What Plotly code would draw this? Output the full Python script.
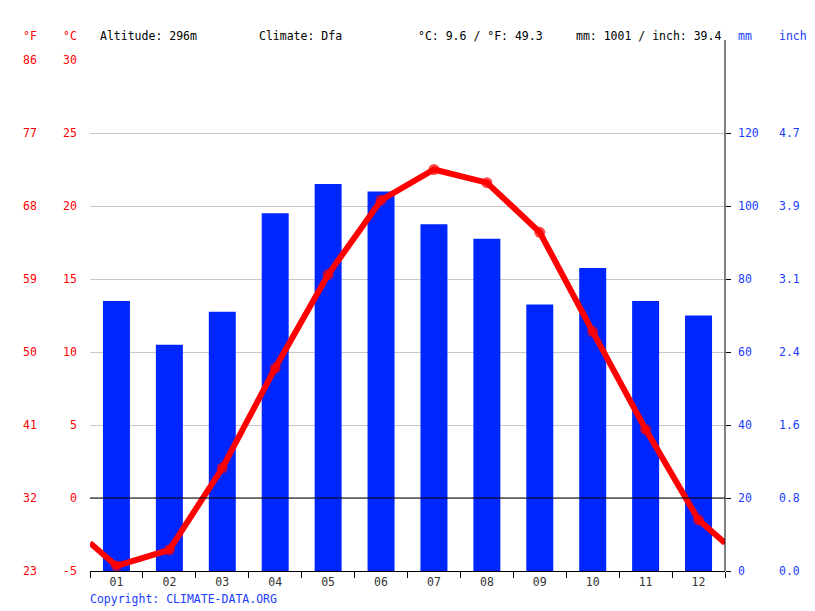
import plotly.graph_objects as go

# ---------------- data ----------------
months = ["01", "02", "03", "04", "05", "06", "07", "08", "09", "10", "11", "12"]
precip_mm = [74, 62, 71, 98, 106, 104, 95, 91, 73, 83, 74, 70]
temp_c = [-4.65, -3.55, 2.05, 8.9, 15.3, 20.4, 22.5, 21.6, 18.2, 11.4, 4.7, -1.5]

c_ticks = [-5, 0, 5, 10, 15, 20, 25, 30]
f_labels = ["23", "32", "41", "50", "59", "68", "77", "86"]
mm_ticks = [0, 20, 40, 60, 80, 100, 120]
inch_labels = ["0.0", "0.8", "1.6", "2.4", "3.1", "3.9", "4.7"]

header_altitude = "Altitude: 296m"
header_climate = "Climate: Dfa"
header_temp = "°C: 9.6 / °F: 49.3"
header_precip = "mm: 1001 / inch: 39.4"
copyright_text = "Copyright: CLIMATE-DATA.ORG"

# ---------------- layout constants ----------------
W, H = 815, 611
OFF = 8  # page body margin offset
L, R, T, B = 90, 725, 60, 571  # plot area in window pixels
FONT = "DejaVu Sans Mono"
FS = 11.5
RED = "#ff0000"
BLUE_BAR = "#0026ff"
BLUE_TXT = "#1a3cff"
PAD = 2  # annotation box padding compensation


def xp(px):
    return (px - L) / (R - L)


def yp(py):
    return (B - py) / (B - T)


def ann(px, y, yref, text, color, anchor):
    return dict(x=xp(px), y=y, xref="paper", yref=yref, text=text,
                showarrow=False, xanchor=anchor, yanchor="middle",
                xshift=(PAD if anchor == "right" else -PAD),
                font=dict(family=FONT, size=FS, color=color))


xpos = list(range(1, 13))
# line wraps around the year at both edges
edge = (temp_c[-1] + temp_c[0]) / 2
line_x = [0.5] + xpos + [12.5]
line_y = [edge] + temp_c + [edge]
marker_sizes = [0] + [11] * 12 + [0]

fig = go.Figure()
fig.add_trace(go.Bar(
    x=xpos, y=precip_mm, width=0.51, marker=dict(color=BLUE_BAR, line=dict(width=0)),
    yaxis="y", hoverinfo="skip", showlegend=False,
))
fig.add_trace(go.Scatter(
    x=line_x, y=line_y, mode="lines+markers", yaxis="y2",
    line=dict(color=RED, width=6),
    marker=dict(color=RED, size=marker_sizes, line=dict(width=0)),
    hoverinfo="skip", showlegend=False, cliponaxis=False,
))

annotations = []
for c, f in zip(c_ticks, f_labels):
    annotations.append(ann(37, c, "y2", f, RED, "right"))
    annotations.append(ann(77, c, "y2", str(c), RED, "right"))
for m, inch in zip(mm_ticks, inch_labels):
    annotations.append(ann(738, m, "y", str(m), BLUE_TXT, "left"))
    annotations.append(ann(779, m, "y", inch, BLUE_TXT, "left"))

hy = yp(36)
for px, txt, col, anchor in [
    (37, "°F", RED, "right"),
    (77, "°C", RED, "right"),
    (100, header_altitude, "black", "left"),
    (259, header_climate, "black", "left"),
    (418, header_temp, "black", "left"),
    (576, header_precip, "black", "left"),
    (738, "mm", BLUE_TXT, "left"),
    (779, "inch", BLUE_TXT, "left"),
]:
    annotations.append(ann(px, hy, "paper", txt, col, anchor))

annotations.append(ann(90, yp(599), "paper", copyright_text, BLUE_TXT, "left"))

shapes = [
    dict(type="line", xref="paper", yref="y2", x0=0, x1=1, y0=0, y1=0,
         line=dict(color="black", width=1), layer="above"),
    dict(type="line", xref="paper", yref="paper", x0=1, x1=1, y0=0, y1=yp(40),
         line=dict(color="black", width=1), layer="above"),
]

fig.update_layout(
    width=W, height=H,
    margin=dict(l=L - OFF, r=W - R + OFF, t=T - OFF, b=H - B + OFF),
    paper_bgcolor="white", plot_bgcolor="white",
    font=dict(family=FONT, size=FS),
    xaxis=dict(
        range=[0.5, 12.5], tickvals=xpos, ticktext=months, ticks="",
        tickfont=dict(family=FONT, size=FS, color="#333333"),
        showgrid=False, zeroline=False, showline=True, linecolor="black", linewidth=1,
        minor=dict(tick0=0.5, dtick=1, ticks="outside", ticklen=6, tickcolor="black", tickwidth=1),
        fixedrange=True,
    ),
    yaxis=dict(
        range=[0, 140], side="right", tickvals=mm_ticks, ticks="outside", ticklen=5,
        tickcolor="black", showticklabels=False, showgrid=False, zeroline=False,
        showline=False, fixedrange=True,
    ),
    yaxis2=dict(
        range=[-5, 30], overlaying="y", side="left", tickvals=c_ticks,
        showticklabels=False, ticks="", showgrid=True, gridcolor="#c8c8c8", gridwidth=1,
        zeroline=False, showline=False, fixedrange=True,
    ),
    bargap=0.49,
    annotations=annotations,
    shapes=shapes,
)

fig.write_html("out.html")
